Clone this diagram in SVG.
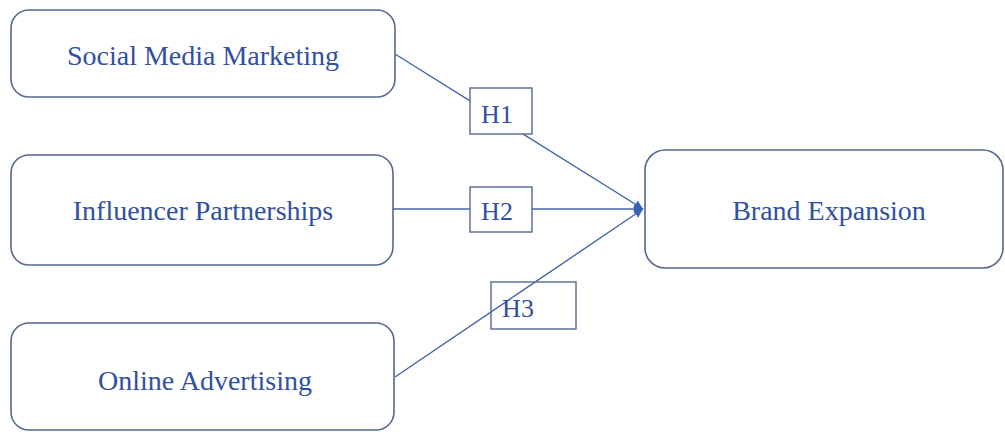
<svg xmlns="http://www.w3.org/2000/svg" width="1005" height="432" viewBox="0 0 1005 432">
  <style>
    .node { fill: #ffffff; stroke: #56688f; stroke-width: 1.6; }
    .label { font-family: "Liberation Serif", "Times New Roman", serif; font-size: 28px; fill: #3150a0; text-anchor: middle; }
    .hyp { fill: #ffffff; stroke: #56688f; stroke-width: 1.4; }
    .hyp-open { fill: none; stroke: #56688f; stroke-width: 1.4; }
    .htext { font-family: "Liberation Serif", "Times New Roman", serif; font-size: 26px; fill: #3150a0; text-anchor: middle; }
    .link { fill: none; stroke: #4565a8; stroke-width: 1.4; }
  </style>
  <defs>
    <marker id="arrow" markerUnits="userSpaceOnUse" markerWidth="12" markerHeight="12" refX="9" refY="6" orient="auto">
      <path d="M0,1.5 L9,6 L0,10.5 Z" fill="#3a62b8"/>
    </marker>
  </defs>
  <rect width="1005" height="432" fill="#ffffff"/>

  <!-- paths from each driver into the outcome box -->
  <g id="connectors">
    <line class="link" x1="395" y1="54" x2="643" y2="209" marker-end="url(#arrow)"/>
    <line class="link" x1="393" y1="209" x2="643" y2="209" marker-end="url(#arrow)"/>
    <line class="link" x1="395" y1="377" x2="643" y2="209" marker-end="url(#arrow)"/>
  </g>

  <g id="social-media-marketing">
    <rect class="node" x="11" y="10" width="384" height="87" rx="18"/>
    <text class="label" x="203" y="65">Social Media Marketing</text>
  </g>

  <g id="influencer-partnerships">
    <rect class="node" x="11" y="155" width="382" height="110" rx="18"/>
    <text class="label" x="203" y="220">Influencer Partnerships</text>
  </g>

  <g id="online-advertising">
    <rect class="node" x="11" y="323" width="383" height="107" rx="18"/>
    <text class="label" x="205" y="390">Online Advertising</text>
  </g>

  <g id="brand-expansion">
    <rect class="node" x="645" y="150" width="358" height="118" rx="20"/>
    <text class="label" x="829" y="220">Brand Expansion</text>
  </g>

  <g id="h1">
    <rect class="hyp" x="470" y="88" width="62" height="46"/>
    <text class="htext" x="497" y="123">H1</text>
  </g>

  <g id="h2">
    <rect class="hyp" x="470" y="187" width="62" height="45"/>
    <text class="htext" x="497" y="220">H2</text>
  </g>

  <g id="h3">
    <rect class="hyp-open" x="491" y="282" width="85" height="47"/>
    <text class="htext" x="518" y="317">H3</text>
  </g>
</svg>
